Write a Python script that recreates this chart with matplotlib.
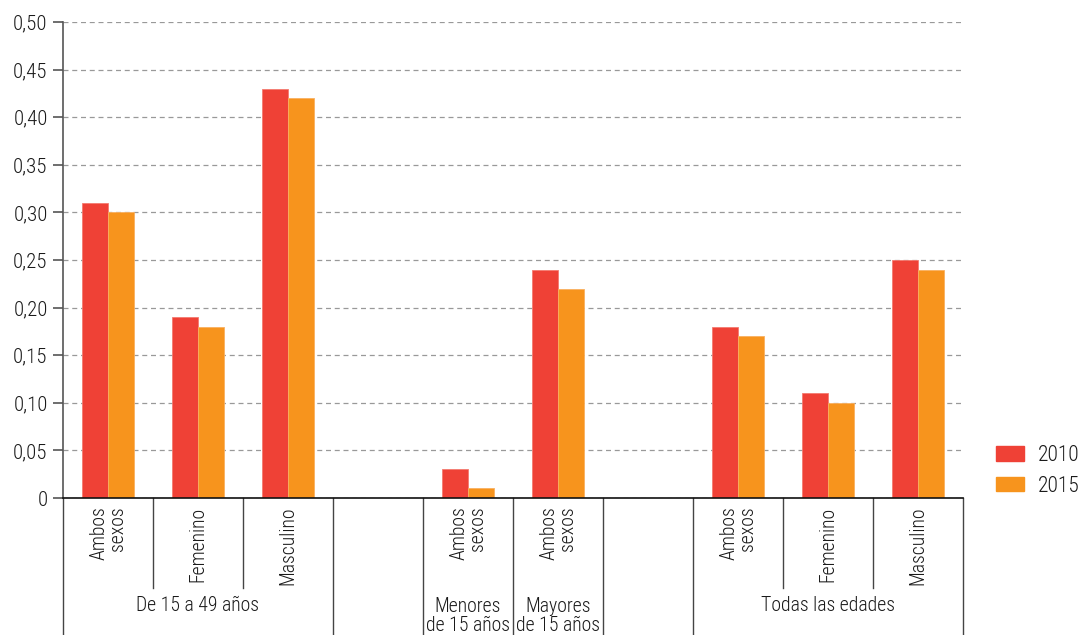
import matplotlib.pyplot as plt
from matplotlib.ticker import FuncFormatter
from matplotlib.patches import Patch

# data
categories = ["Ambos\nsexos", "Femenino", "Masculino", "",
              "Ambos\nsexos", "Ambos\nsexos", "",
              "Ambos\nsexos", "Femenino", "Masculino"]
values_2010 = [0.31, 0.19, 0.43, None, 0.03, 0.24, None, 0.18, 0.11, 0.25]
values_2015 = [0.30, 0.18, 0.42, None, 0.01, 0.22, None, 0.17, 0.10, 0.24]
groups = ["De 15 a 49 años", "Menores\nde 15 años", "Mayores\nde 15 años", "Todas las edades"]
group_spans = [(0, 2), (4, 4), (5, 5), (7, 9)]
years = ["2010", "2015"]

plt.rcParams['font.family'] = ['Roboto Condensed', 'DejaVu Sans']
plt.rcParams['font.stretch'] = 'condensed'
plt.rcParams['font.weight'] = 'light'
plt.rcParams['font.size'] = 14.2

red = '#EF4136'
orange = '#F7941D'
ink = '#1a1a1a'

fig = plt.figure(figsize=(10.82, 6.35), dpi=100)
ax = fig.add_axes([63 / 1082, 1 - 498 / 635, 900 / 1082, 476 / 635])

w = 0.29
for i, (a, b) in enumerate(zip(values_2010, values_2015)):
    if a is None:
        continue
    ax.bar(i - w / 2, a, width=w, color=red, edgecolor='#F47A70', linewidth=0.6)
    ax.bar(i + w / 2, b, width=w, color=orange, edgecolor='#F9B060', linewidth=0.6)

ax.set_xlim(-0.5, len(categories) - 0.5)
ax.set_ylim(0, 0.5)
ax.set_yticks([k * 0.05 for k in range(11)])
ax.yaxis.set_major_formatter(FuncFormatter(
    lambda v, p: "0" if abs(v) < 1e-9 else f"{v:.2f}".replace(".", ",")))
ax.tick_params(axis='y', length=7, width=1.2, color='#555555', labelcolor=ink,
               pad=4, labelsize=15)
ax.set_xticks([])
ax.grid(axis='y', linestyle=(0, (4, 3)), color='#999999', linewidth=0.9)
ax.set_axisbelow(True)
for s in ['top', 'right']:
    ax.spines[s].set_visible(False)
ax.spines['left'].set_color('#555555')
ax.spines['left'].set_linewidth(1.2)
ax.spines['bottom'].set_color('#111111')
ax.spines['bottom'].set_linewidth(1.2)

# category labels and separators below the axis
tr = ax.get_xaxis_transform()
for i, c in enumerate(categories):
    if c:
        ax.text(i, -0.018, c, transform=tr, rotation=90, ha='center', va='top',
                multialignment='right', color=ink, linespacing=0.95)

full = [-0.5, 2.5, 3.5, 4.5, 5.5, 6.5, 9.5]
part = [0.5, 1.5, 7.5, 8.5]
for x in full:
    ax.plot([x, x], [0, -0.288], transform=tr, color='#444444', lw=1, clip_on=False)
for x in part:
    ax.plot([x, x], [0, -0.189], transform=tr, color='#444444', lw=1, clip_on=False)

for g, (s, e) in zip(groups, group_spans):
    yy = -0.225 if "\n" not in g else -0.248
    ax.text((s + e) / 2, yy, g, transform=tr, ha='center', va='center',
            color=ink, linespacing=1.05)

handles = [Patch(color=red), Patch(color=orange)]
fig.legend(handles, years, loc='center left', bbox_to_anchor=(996 / 1082, 1 - 471 / 635),
           frameon=False, borderpad=0, borderaxespad=0,
           handlelength=1.3, handleheight=0.65, handletextpad=0.65,
           labelspacing=0.45, fontsize=15.5, labelcolor=ink)

fig.savefig('out.png', dpi=100)
